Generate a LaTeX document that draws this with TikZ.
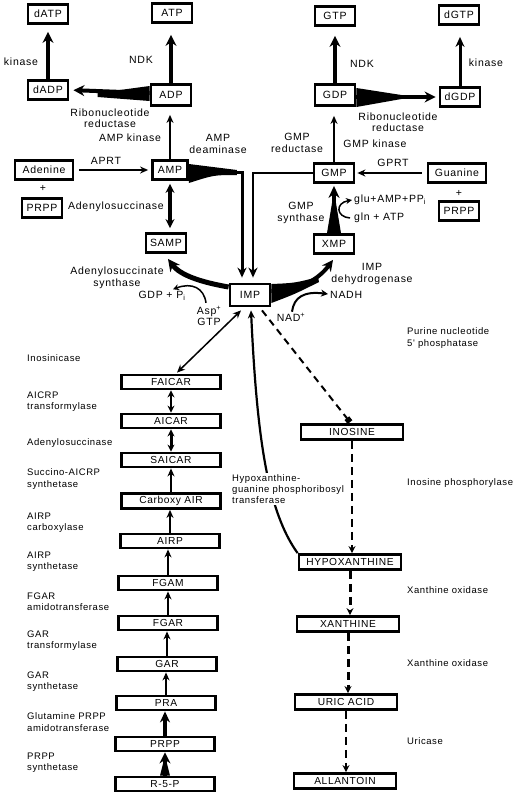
\documentclass[tikz,border=0pt]{standalone}
\usepackage{fontspec}
\setmainfont{Liberation Sans}
\newfontfamily\wideface{Liberation Sans}[LetterSpace=7]
\newfontfamily\slimface{Liberation Sans}[LetterSpace=6]
\newcommand{\enzfont}{\wideface\fontsize{10.5}{11.5}\selectfont}
\newcommand{\notefont}{\slimface\fontsize{9.5}{11.2}\selectfont}
\newcommand{\boxfont}{\slimface\fontsize{10.2}{11.2}\selectfont}
\usetikzlibrary{arrows.meta,calc}

\tikzset{
  met/.style={draw, line width=2.8pt, minimum width=40pt, minimum height=19pt, inner xsep=4pt, inner ysep=0pt, font=\enzfont},
  chainbox/.style={draw, line width=2.8pt, minimum width=99pt, minimum height=14pt, inner sep=0pt, font=\boxfont},
  catbox/.style={draw, line width=2.8pt, minimum width=102pt, minimum height=15pt, inner sep=0pt, font=\boxfont},
  enz/.style={font=\enzfont, align=center, inner sep=0pt},
  note/.style={font=\notefont, align=left, anchor=west, inner sep=0pt},
  thin arrow/.style={line width=2.2pt, -{Stealth[length=8pt,width=7pt]}},
  thick arrow/.style={line width=4pt, -{Stealth[length=11pt,width=11pt]}},
  both arrow/.style={line width=2.8pt, {Stealth[length=7pt,width=7pt]}-{Stealth[length=7pt,width=7pt]}},
  dash arrow/.style={line width=2.5pt, dash pattern=on 8pt off 5pt, -{Stealth[length=7pt,width=7pt]}},
}

\begin{document}
\begin{tikzpicture}[x=1pt,y=-1pt]
\useasboundingbox (0,0) rectangle (521,804);

% adenine side
\node[met] (datp) at (48,14) {dATP};
\node[met] (atp) at (172,13) {ATP};
\node[met] (dadp) at (48,90) {dADP};
\node[met, minimum height=21pt] (adp) at (171,95) {ADP};
\node[met, minimum width=58pt] (adenine) at (44,170) {Adenine};
\node[met] (prppa) at (42,208) {PRPP};
\node[met, minimum width=35pt] (amp) at (170,170) {AMP};
\node[met, minimum width=35pt] (samp) at (166,243) {SAMP};
\node[met, minimum height=22pt] (imp) at (250,295) {IMP};

% guanine side
\node[met] (gtp) at (335,16) {GTP};
\node[met] (dgtp) at (459,15) {dGTP};
\node[met, minimum height=21pt] (gdp) at (335,95) {GDP};
\node[met] (dgdp) at (460,97) {dGDP};
\node[met] (gmp) at (334,173) {GMP};
\node[met, minimum width=58pt] (guanine) at (457,173) {Guanine};
\node[met] (prppg) at (459,211) {PRPP};
\node[met] (xmp) at (334,244) {XMP};

% de novo chain
\node[chainbox] (faicar) at (171,382) {FAICAR};
\node[chainbox] (aicar) at (171,421) {AICAR};
\node[chainbox] (saicar) at (171,460) {SAICAR};
\node[chainbox, minimum height=15pt] (cair) at (171,501) {Carboxy AIR};
\node[chainbox] (airp) at (170,541) {AIRP};
\node[chainbox] (fgam) at (168,583) {FGAM};
\node[chainbox] (fgar) at (168,623) {FGAR};
\node[chainbox] (gar) at (167,664) {GAR};
\node[chainbox] (pra) at (166,703) {PRA};
\node[chainbox] (prpp) at (165,744) {PRPP};
\node[chainbox] (r5p) at (165,784) {R-5-P};

% degradation
\node[catbox] (inosine) at (352,432) {INOSINE};
\node[catbox] (hypox) at (350,562) {HYPOXANTHINE};
\node[catbox] (xanthine) at (348,624) {XANTHINE};
\node[catbox] (uric) at (346,702) {URIC ACID};
\node[catbox] (allantoin) at (345,781) {ALLANTOIN};

% enzyme labels, top
\node[enz] at (21,62) {kinase};
\node[enz] at (141,60) {NDK};
\node[enz] at (110,118) {Ribonucleotide\\reductase};
\node[enz] at (130,138) {AMP kinase};
\node[enz] at (218,144) {AMP\\deaminase};
\node[enz] at (106,161) {APRT};
\node[enz] at (43,188) {+};
\node[enz] at (116,207) {Adenylosuccinase};
\node[enz] at (117,278) {Adenylosuccinate\\synthase};
\node[enz] (gdppi) at (162,296) {GDP + P\textsubscript{i}};
\node[enz] (asp) at (209,316) {Asp\textsuperscript{+}\\GTP};
\node[enz] at (362,64) {NDK};
\node[enz] at (486,63) {kinase};
\node[enz] at (398,122) {Ribonucleotide\\reductase};
\node[enz] at (375,144) {GMP kinase};
\node[enz] at (297,143) {GMP\\reductase};
\node[enz] at (393,163) {GPRT};
\node[enz] at (459,193) {+};
\node[enz] at (301,213) {GMP\\synthase};
\node[enz, anchor=west] (glu) at (354,200) {glu+AMP+PP\textsubscript{i}};
\node[enz, anchor=west] (gln) at (354,218) {gln + ATP};
\node[enz] at (372,274) {IMP\\dehydrogenase};
\node[enz, anchor=west] (nadh) at (330,295) {NADH};
\node[enz] (nad) at (291,317) {NAD\textsuperscript{+}};

% enzyme labels, left column and right column
\node[note] at (27,358) {Inosinicase};
\node[note] at (27,402) {AICRP\\transformylase};
\node[note] at (27,443) {Adenylosuccinase};
\node[note] at (27,479) {Succino-AICRP\\synthetase};
\node[note] at (27,523) {AIRP\\carboxylase};
\node[note] at (27,562) {AIRP\\synthetase};
\node[note] at (27,602) {FGAR\\amidotransferase};
\node[note] at (27,641) {GAR\\transformylase};
\node[note] at (27,682) {GAR\\synthetase};
\node[note] at (27,722) {Glutamine PRPP\\amidotransferase};
\node[note] at (27,763) {PRPP\\synthetase};
\node[note] at (407,338) {Purine nucleotide\\5' phosphatase};
\node[note] at (407,483) {Inosine phosphorylase};
\node[note] at (407,590) {Xanthine oxidase};
\node[note] at (407,663) {Xanthine oxidase};
\node[note] at (407,741) {Uricase};

% top left arrows
\draw[thick arrow, shorten >=7pt] (dadp.north) -- (dadp.north |- datp.south);
\draw[thick arrow, shorten >=11pt] (adp.north) -- (adp.north |- atp.south);
\fill ($(adp.west)+(0,-9)$) -- ($(adp.west)+(0,6)$) -- ($(adp.west)+(-52,2)$) -- ($(adp.west)+(-52,-2)$) -- cycle;
\draw[thick arrow, shorten >=4pt] ($(adp.west)+(0,-2)$) -- (dadp.east);
\draw[thin arrow, shorten >=8pt] (amp.north) -- (amp.north |- adp.south);
\draw[thin arrow, line width=2.5pt, shorten <=5pt, shorten >=3pt] (adenine.east) -- (amp.west);
\draw[line width=3.5pt, {Stealth[length=9pt,width=9pt]}-{Stealth[length=9pt,width=9pt]}, shorten <=3pt, shorten >=4pt] (amp.south) -- (amp.south |- samp.north);

% AMP deaminase and GMP reductase into IMP
\fill ($(amp.east)+(0,-6)$) -- ($(amp.east)+(0,13)$) .. controls ($(amp.east)+(25,5)$) .. ($(amp.east)+(48,5)$) -- ($(amp.east)+(48,0)$) -- cycle;
\draw[line width=3pt, -{Stealth[length=10pt,width=9pt]}, shorten >=5pt] ($(amp.east)+(40,2.5)$) -| ($(imp.north)+(-8,0)$);
\draw[line width=2.5pt, -{Stealth[length=10pt,width=9pt]}, shorten >=5pt] (gmp.west) -| ($(imp.north)+(3,0)$);

% IMP to SAMP
\draw[line width=5pt, -{Stealth[length=12pt,width=12pt]}] ($(imp.west)+(0,-8)$) .. controls (200,282) and (180,275) .. ($(samp.south)+(2,5)$);
\draw[line width=1.5pt, -{Stealth[length=6pt,width=6pt]}] ($(asp.north)+(-3,-3)$) .. controls (204,288) and (192,282) .. ($(gdppi.north)+(11,-2)$);

% IMP to XMP
\fill ($(imp.east)+(0,-11)$) .. controls (295,283) .. (318,277) -- (319,282) .. controls (295,294) .. ($(imp.east)+(0,8)$) -- cycle;
\draw[line width=4pt, -{Stealth[length=11pt,width=11pt]}] ($(imp.east)+(0,-4)$) .. controls (300,290) and (318,280) .. ($(xmp.south)+(-1,5)$);
\draw[line width=2pt, -{Stealth[length=7pt,width=7pt]}] ($(nad.north)+(1,-1)$) .. controls (294,297) and (304,291) .. ($(nadh.west)+(-2,-1)$);

% XMP to GMP
\fill ($(xmp.north)+(-7,0)$) -- ($(xmp.north)+(7,0)$) -- ($(xmp.north)+(2,-30)$) -- ($(xmp.north)+(-2,-30)$) -- cycle;
\draw[line width=4pt, -{Stealth[length=12pt,width=11pt]}, shorten >=2pt] ($(xmp.north)+(0,-25)$) -- (gmp.south);
\draw[line width=1.5pt, -{Stealth[length=6pt,width=6pt]}] ($(gln.west)+(-4,0)$) .. controls (336,217) and (335,203) .. ($(glu.west)+(-2,0)$);

% guanine side arrows
\draw[thin arrow, shorten <=5pt, shorten >=2pt] (guanine.west) -- (gmp.east);
\draw[thin arrow, shorten >=9pt] (gmp.north) -- (gmp.north |- gdp.south);
\draw[thick arrow, shorten >=9pt] (gdp.north) -- (gdp.north |- gtp.south);
\fill ($(gdp.east)+(0,-7)$) -- ($(gdp.east)+(0,12)$) -- ($(gdp.east)+(45,4)$) -- ($(gdp.east)+(45,0)$) -- cycle;
\draw[thick arrow, shorten >=3pt] ($(gdp.east)+(0,2)$) -- (dgdp.west);
\draw[line width=3pt, -{Stealth[length=10pt,width=9pt]}, shorten >=11pt] (dgdp.north) -- (dgdp.north |- dgtp.south);

% de novo arrows
\draw[line width=1.5pt, {Stealth[length=8pt,width=7pt]}-{Stealth[length=8pt,width=7pt]}] ($(imp.south)+(-9,3)$) -- ($(faicar.north)+(6,-1)$);
\draw[both arrow] (aicar.north) -- (aicar.north |- faicar.south);
\draw[both arrow, line width=3pt] (saicar.north) -- (saicar.north |- aicar.south);
\draw[thin arrow] (cair.north) -- (cair.north |- saicar.south);
\draw[thin arrow] (airp.north) -- (airp.north |- cair.south);
\draw[thin arrow] (fgam.north) -- (fgam.north |- airp.south);
\draw[thin arrow] (fgar.north) -- (fgar.north |- fgam.south);
\draw[thin arrow] (gar.north) -- (gar.north |- fgar.south);
\draw[thin arrow] (pra.north) -- (pra.north |- gar.south);
\draw[line width=3.5pt, -{Stealth[length=11pt,width=10pt]}] (prpp.north) -- (prpp.north |- pra.south);
\fill ($(r5p.north)+(-5,0)$) -- ($(r5p.north)+(5,0)$) -- ($(r5p.north)+(2,-12)$) -- ($(r5p.north)+(-2,-12)$) -- cycle;
\draw[line width=4pt, -{Stealth[length=11pt,width=11pt]}] (r5p.north) -- (r5p.north |- prpp.south);

% degradation arrows
\draw[line width=2pt, dash pattern=on 7pt off 5pt, -{Square[length=5pt,width=6pt]}] ($(imp.south)+(12,3)$) -- ($(inosine.north)+(-2,-1)$);
\draw[dash arrow] (inosine.south) -- (inosine.south |- hypox.north);
\draw[dash arrow, line width=3pt] (hypox.south) -- (hypox.south |- xanthine.north);
\draw[dash arrow, line width=3pt] (xanthine.south) -- (xanthine.south |- uric.north);
\draw[dash arrow] (uric.south) -- (uric.south |- allantoin.north);

% salvage of hypoxanthine
\draw[line width=2.2pt, -{Stealth[length=8pt,width=7pt]}] (hypox.north west) .. controls (268,512) and (257,440) .. ($(imp.south)+(1,3)$);
\node[note, fill=white, inner sep=1pt] (hgprt) at (231,489) {Hypoxanthine-\\guanine phosphoribosyl\\transferase};
\end{tikzpicture}
\end{document}
